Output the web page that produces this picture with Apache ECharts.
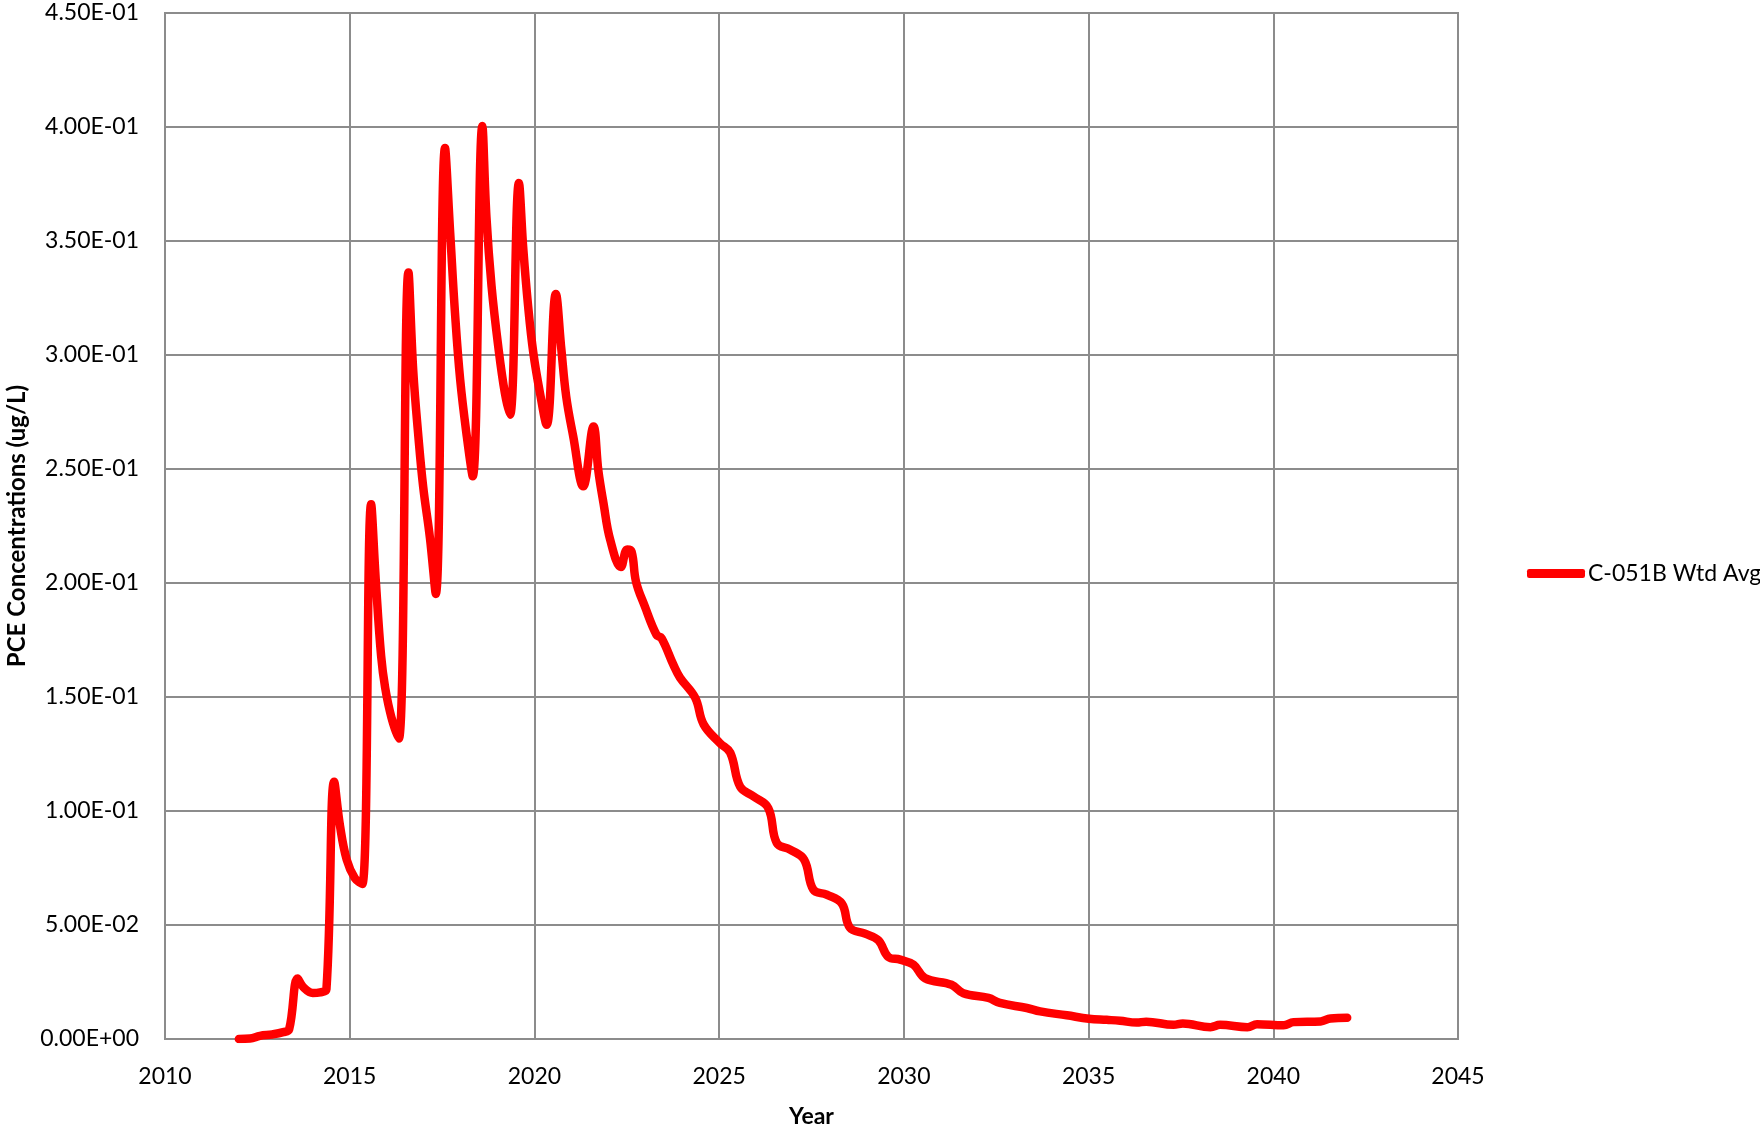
<!DOCTYPE html>
<html>
<head>
<meta charset="utf-8">
<title>PCE Concentrations - C-051B Wtd Avg</title>
<script src="https://cdn.jsdelivr.net/npm/echarts@6/dist/echarts.min.js"></script>
<style>
  html, body { margin: 0; padding: 0; background: #ffffff; }
  #chart { width: 1760px; height: 1128px; }
</style>
</head>
<body>
<div id="chart"></div>
<script>
// Simulated weighted-average PCE concentration at C-051B (decimal years)
const years = [
  2012.00, 2012.30, 2012.57, 2012.90, 2013.20, 2013.36, 2013.59, 2013.74, 2014.00, 2014.20,
  2014.37, 2014.58, 2014.74, 2014.92, 2015.14, 2015.34, 2015.58, 2015.71, 2015.85, 2015.96,
  2016.13, 2016.33, 2016.59, 2016.72, 2016.86, 2016.99, 2017.17, 2017.33, 2017.58, 2017.72,
  2017.85, 2017.99, 2018.17, 2018.33, 2018.59, 2018.70, 2018.84, 2019.02, 2019.20, 2019.34,
  2019.58, 2019.70, 2019.83, 2019.97, 2020.15, 2020.33, 2020.58, 2020.73, 2020.86, 2021.05,
  2021.32, 2021.60, 2021.73, 2021.87, 2022.05, 2022.34, 2022.51, 2022.63, 2022.75, 2022.99,
  2023.31, 2023.44, 2023.76, 2023.94, 2024.35, 2024.58, 2025.02, 2025.30, 2025.57, 2025.93,
  2026.33, 2026.56, 2026.92, 2027.30, 2027.55, 2027.91, 2028.32, 2028.54, 2028.95, 2029.31,
  2029.58, 2029.90, 2030.26, 2030.57, 2031.29, 2031.61, 2032.29, 2032.60, 2033.33, 2033.69,
  2034.41, 2035.01, 2035.49, 2035.85, 2036.30, 2036.56, 2037.30, 2037.55, 2038.30, 2038.56,
  2039.30, 2039.56, 2040.28, 2040.55, 2041.28, 2041.55, 2042.00
];

const concentrations = [
  0.0000, 0.0002, 0.0014, 0.0020, 0.0030, 0.0042, 0.0265, 0.0228, 0.0202, 0.0205,
  0.0218, 0.1128, 0.0932, 0.0786, 0.0705, 0.0680, 0.2345, 0.2000, 0.1680, 0.1540,
  0.1410, 0.1318, 0.3362, 0.2930, 0.2640, 0.2420, 0.2200, 0.1952, 0.3908, 0.3535,
  0.3184, 0.2892, 0.2643, 0.2468, 0.4004, 0.3608, 0.3301, 0.3038, 0.2833, 0.2738,
  0.3754, 0.3462, 0.3213, 0.3009, 0.2833, 0.2694, 0.3268, 0.3023, 0.2818, 0.2643,
  0.2424, 0.2686, 0.2493, 0.2350, 0.2190, 0.2070, 0.2147, 0.2138, 0.2006, 0.1897,
  0.1771, 0.1758, 0.1642, 0.1585, 0.1497, 0.1380, 0.1298, 0.1256, 0.1106, 0.1064,
  0.1013, 0.0860, 0.0831, 0.0787, 0.0655, 0.0633, 0.0594, 0.0488, 0.0462, 0.0433,
  0.0360, 0.0348, 0.0326, 0.0267, 0.0238, 0.0201, 0.0180, 0.0158, 0.0136, 0.0121,
  0.0104, 0.0089, 0.0084, 0.0080, 0.0072, 0.0076, 0.0062, 0.0068, 0.0052, 0.0062,
  0.0052, 0.0065, 0.0060, 0.0074, 0.0077, 0.0090, 0.0093
];

const seriesName = 'C-051B Wtd Avg';
const xTitle = 'Year';
const yTitle = 'PCE Concentrations (ug/L)';

const X_MIN = 2010, X_MAX = 2045, X_STEP = 5;
const Y_MIN = 0, Y_MAX = 0.45, Y_STEP = 0.05;

const FONT = 'Lato, "Noto Sans", sans-serif';
const GRID_GREY = '#8c8c8c';

// Scientific notation with a two-digit exponent, e.g. 4.50E-01
function sciLabel(v) {
  const parts = Number(v).toExponential(2).split('e');
  const exp = parseInt(parts[1], 10);
  const sign = exp < 0 ? '-' : '+';
  return parts[0] + 'E' + sign + String(Math.abs(exp)).padStart(2, '0');
}

const points = years.map((y, i) => [y, concentrations[i]]);

const chart = echarts.init(document.getElementById('chart'), null, { renderer: 'canvas' });

chart.setOption({
  animation: false,
  backgroundColor: '#ffffff',
  textStyle: { fontFamily: FONT, color: '#000' },
  grid: {
    left: 165, right: 302, top: 13, bottom: 89,
    containLabel: false,
    outerBoundsMode: 'none',
    show: true, borderColor: GRID_GREY, borderWidth: 2, backgroundColor: 'transparent'
  },
  legend: {
    left: 1522, top: 557,
    icon: 'roundRect',
    itemWidth: 58, itemHeight: 9,
    textStyle: { fontFamily: FONT, fontSize: 23, color: '#000', padding: [0, 0, 0, -2] },
    data: [{ name: seriesName, itemStyle: { color: '#ff0000' } }]
  },
  xAxis: {
    type: 'value',
    min: X_MIN, max: X_MAX, interval: X_STEP,
    name: xTitle, nameLocation: 'middle', nameGap: 66,
    nameTextStyle: { fontFamily: FONT, fontSize: 23, fontWeight: 'bold', color: '#000' },
    axisLine: { show: true, lineStyle: { color: GRID_GREY, width: 2 } },
    axisTick: { show: false },
    axisLabel: { fontFamily: FONT, fontSize: 23, color: '#000', margin: 26, formatter: v => String(v) },
    splitLine: { show: true, lineStyle: { color: GRID_GREY, width: 2 } }
  },
  yAxis: {
    type: 'value',
    min: Y_MIN, max: Y_MAX, interval: Y_STEP,
    name: yTitle, nameLocation: 'middle', nameGap: 136, nameRotate: 90,
    nameTextStyle: { fontFamily: FONT, fontSize: 24, fontWeight: 'bold', color: '#000' },
    axisLine: { show: true, lineStyle: { color: GRID_GREY, width: 2 } },
    axisTick: { show: false },
    axisLabel: { fontFamily: FONT, fontSize: 23, color: '#000', margin: 26, formatter: sciLabel },
    splitLine: { show: true, lineStyle: { color: GRID_GREY, width: 2 } }
  },
  series: [{
    name: seriesName,
    type: 'line',
    data: points,
    smooth: 0.4,
    showSymbol: false,
    symbol: 'none',
    lineStyle: { color: '#ff0000', width: 8.5, cap: 'round', join: 'round' },
    itemStyle: { color: '#ff0000' }
  }]
});
</script>
</body>
</html>
